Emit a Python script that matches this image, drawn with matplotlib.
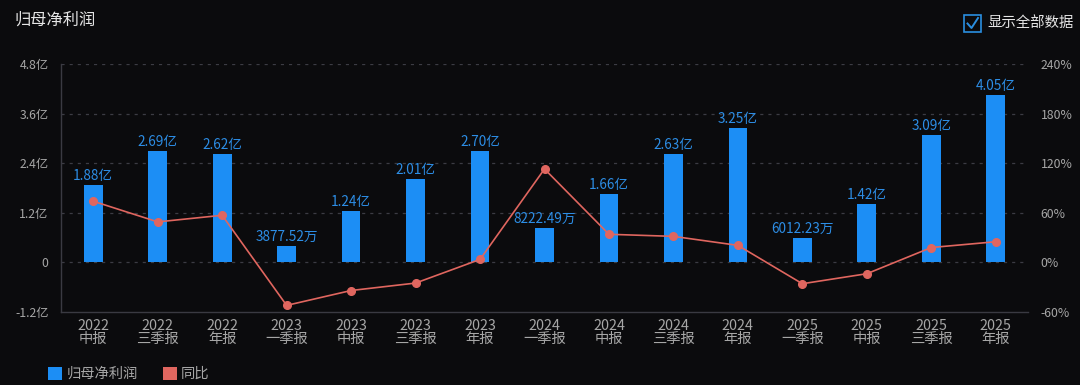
import matplotlib
matplotlib.use("Agg")
import matplotlib.pyplot as plt
from matplotlib.patches import Rectangle
import numpy as np

plt.rcParams['font.family'] = ['Noto Sans CJK SC', 'DejaVu Sans']

categories = ["2022\n中报", "2022\n三季报", "2022\n年报", "2023\n一季报", "2023\n中报", "2023\n三季报",
              "2023\n年报", "2024\n一季报", "2024\n中报", "2024\n三季报", "2024\n年报", "2025\n一季报",
              "2025\n中报", "2025\n三季报", "2025\n年报"]
profit_yi = [1.88, 2.69, 2.62, 0.387752, 1.24, 2.01, 2.70, 0.822249, 1.66, 2.63, 3.25, 0.601223, 1.42, 3.09, 4.05]
profit_labels = ["1.88亿", "2.69亿", "2.62亿", "3877.52万", "1.24亿", "2.01亿", "2.70亿", "8222.49万",
                 "1.66亿", "2.63亿", "3.25亿", "6012.23万", "1.42亿", "3.09亿", "4.05亿"]
yoy_pct = [74, 49, 57, -52, -34, -25, 3.6, 113, 34, 31.5, 20.6, -25.8, -13.7, 18, 25]
left_ticks = [-1.2, 0, 1.2, 2.4, 3.6, 4.8]
left_tick_labels = ["-1.2亿", "0", "1.2亿", "2.4亿", "3.6亿", "4.8亿"]
right_ticks = [-60, 0, 60, 120, 180, 240]
right_tick_labels = ["-60%", "0%", "60%", "120%", "180%", "240%"]

BG = "#0b0b0d"
BAR = "#1c8ef5"
LINE = "#e0665f"
LABEL = "#2d8ee6"
TICK = "#a6a6a6"
GRID = "#3c3c44"

W, H = 1080, 385
fig = plt.figure(figsize=(W / 100, H / 100), dpi=100, facecolor=BG)
ax = fig.add_axes([61 / W, (H - 312) / H, (1028 - 61) / W, (312 - 64) / H])
ax.set_facecolor(BG)

x = np.arange(len(categories))
ax.bar(x, profit_yi, width=0.29, color=BAR, zorder=2)
for xi, v, lab in zip(x, profit_yi, profit_labels):
    ax.annotate(lab, (xi, v), xytext=(0, 1.5), textcoords="offset points", ha="center", va="bottom",
                color=LABEL, fontsize=9.8, zorder=5)

ax.set_xlim(-0.5, len(categories) - 0.5)
ax.set_ylim(-1.2, 4.8)
ax.set_yticks(left_ticks)
ax.set_yticklabels(left_tick_labels)
ax.set_xticks(x)
ax.set_xticklabels(categories, linespacing=0.9)
for yv in left_ticks[1:]:
    ax.axhline(yv, color=GRID, lw=0.9, ls=(0, (2.5, 4)), zorder=1)
ax.tick_params(axis="both", colors=TICK, length=0)
ax.tick_params(axis="y", pad=9, labelsize=8.8)
ax.tick_params(axis="x", pad=5, labelsize=10.3)
for s in ["top", "right"]:
    ax.spines[s].set_visible(False)
for s in ["left", "bottom"]:
    ax.spines[s].set_color("#3a3a42")
    ax.spines[s].set_linewidth(1.0)

ax2 = ax.twinx()
ax2.set_ylim(-60, 240)
ax2.set_yticks(right_ticks)
ax2.set_yticklabels(right_tick_labels)
ax2.tick_params(axis="y", colors=TICK, labelsize=8.8, length=0, pad=9)
for s in ax2.spines.values():
    s.set_visible(False)
ax2.plot(x, yoy_pct, color=LINE, lw=1.2, marker="o", markersize=5.5, zorder=4)

# title
fig.text(14 / W, 1 - 20 / H, "归母净利润", color="#e6e6e6", fontsize=11.7, va="center", ha="left")

# checkbox
fig.patches.append(Rectangle((964 / W, 1 - 32 / H), 17 / W, 17 / H, transform=fig.transFigure,
                             fill=False, edgecolor="#2a8ee0", lw=1.2))
fig.lines.append(plt.Line2D([967.5 / W, 971.5 / W, 978 / W], [1 - 23.5 / H, 1 - 28 / H, 1 - 18 / H],
                            transform=fig.transFigure, color="#2a8ee0", lw=1.4))
fig.text(987 / W, 1 - 23 / H, "显示全部数据", color="#e6e6e6", fontsize=10.4, va="center", ha="left")

# legend
fig.patches.append(Rectangle((48 / W, 1 - 380 / H), 14 / W, 13 / H, transform=fig.transFigure,
                             facecolor=BAR, edgecolor="none"))
fig.text(67 / W, 1 - 374 / H, "归母净利润", color=TICK, fontsize=10.3, va="center", ha="left")
fig.patches.append(Rectangle((163 / W, 1 - 380 / H), 14 / W, 13 / H, transform=fig.transFigure,
                             facecolor=LINE, edgecolor="none"))
fig.text(181 / W, 1 - 374 / H, "同比", color=TICK, fontsize=10.3, va="center", ha="left")

fig.savefig("out.png", dpi=100, facecolor=BG)
